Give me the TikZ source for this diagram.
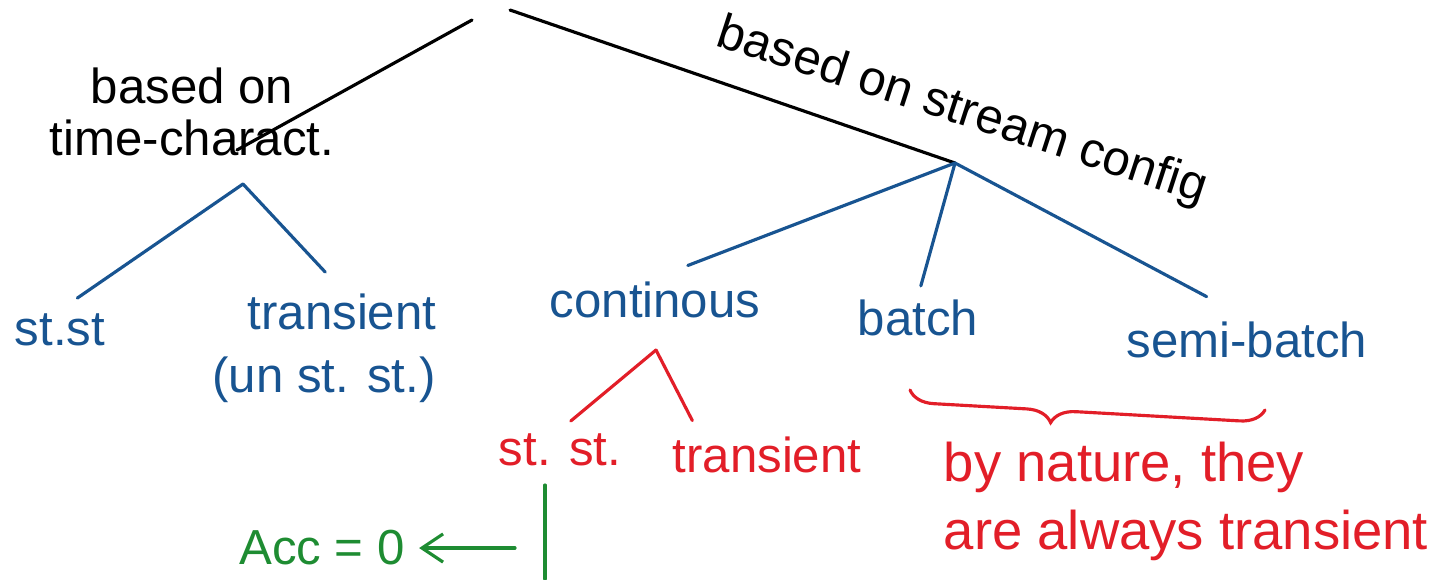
\documentclass[tikz,border=0pt]{standalone}
\usepackage{fontspec}
\setmainfont{Liberation Sans}
\usepackage{xcolor}
\usetikzlibrary{positioning,arrows.meta,decorations.pathreplacing}
\definecolor{penblue}{RGB}{24,84,145}
\definecolor{penred}{RGB}{226,30,40}
\definecolor{pengreen}{RGB}{30,140,50}
\begin{document}
\begin{tikzpicture}[x=0.02cm,y=-0.02cm,
  hand/.style={font=\fontsize{28}{30}\selectfont,inner sep=2pt},
  bighand/.style={font=\fontsize{31}{33}\selectfont,inner sep=2pt},
  blackline/.style={line width=1.8pt,black,line cap=round},
  blueline/.style={line width=1.8pt,penblue,line cap=round},
  redline/.style={line width=1.8pt,penred,line cap=round},
  greenline/.style={line width=1.8pt,pengreen,line cap=round}]
\useasboundingbox (0,0) rectangle (1449,579);
% top branches
\coordinate (top1) at (472,20);
\coordinate (top2) at (510,10);
\coordinate (tcend) at (237,150);
\coordinate (cfg) at (955,163);
\node[hand,align=center] (timechar) at (192,112) {based on\\time-charact.};
\node[hand,rotate=-18] (cfglbl) at (962,112) {based on stream config};
\draw[blackline](top1)--(tcend);
\draw[blackline](top2)--(cfg);
% time characteristic
\coordinate (tcfork) at (243,184);
\node[hand,text=penblue] (stst1) at (60,330) {st.st};
\node[hand,text=penblue] (trans1) at (342,312) {transient};
\node[hand,text=penblue] (unst) at (324,380) {(un st. st.)};
\draw[blueline,shorten >=12pt](tcfork)--(stst1.north);
\draw[blueline,shorten >=14pt](tcfork)--(trans1.north);
% stream configuration
\node[hand,text=penblue] (cont) at (655,300) {continous};
\node[hand,text=penblue] (batch) at (918,318) {batch};
\node[hand,text=penblue] (semi) at (1247,340) {semi-batch};
\draw[blueline,shorten >=20pt](cfg)--(cont.north);
\draw[blueline,shorten >=6pt](cfg)--(batch.north);
\draw[blueline,shorten >=26pt](cfg)--(semi.north);
% continuous split
\coordinate (contfork) at (656,350);
\node[hand,text=penred] (stst2) at (560,450) {st. st.};
\node[hand,text=penred] (trans2) at (767,455) {transient};
\draw[redline,shorten >=8pt](contfork)--(stst2.north);
\draw[redline,shorten >=8pt](contfork)--([xshift=0.6cm]trans2.north west);
% batch note
\draw[redline,decorate,decoration={brace,amplitude=14pt,aspect=0.6}](1265,410)--(910,390);
\node[bighand,text=penred,align=left,anchor=north west] (note) at (940,438) {by nature, they\\[6pt]are always transient};
% accumulation
\coordinate (gtop) at (545,485);
\coordinate (gbot) at (545,579);
\node[hand,text=pengreen] (acc) at (322,548) {Acc = 0};
\coordinate (acctail) at (515,548);
\draw[greenline](gtop)--(gbot);
\draw[greenline,-{Straight Barb[length=12pt,width=16pt]},shorten >=6pt](acctail)--(acc.east);
\end{tikzpicture}
\end{document}
